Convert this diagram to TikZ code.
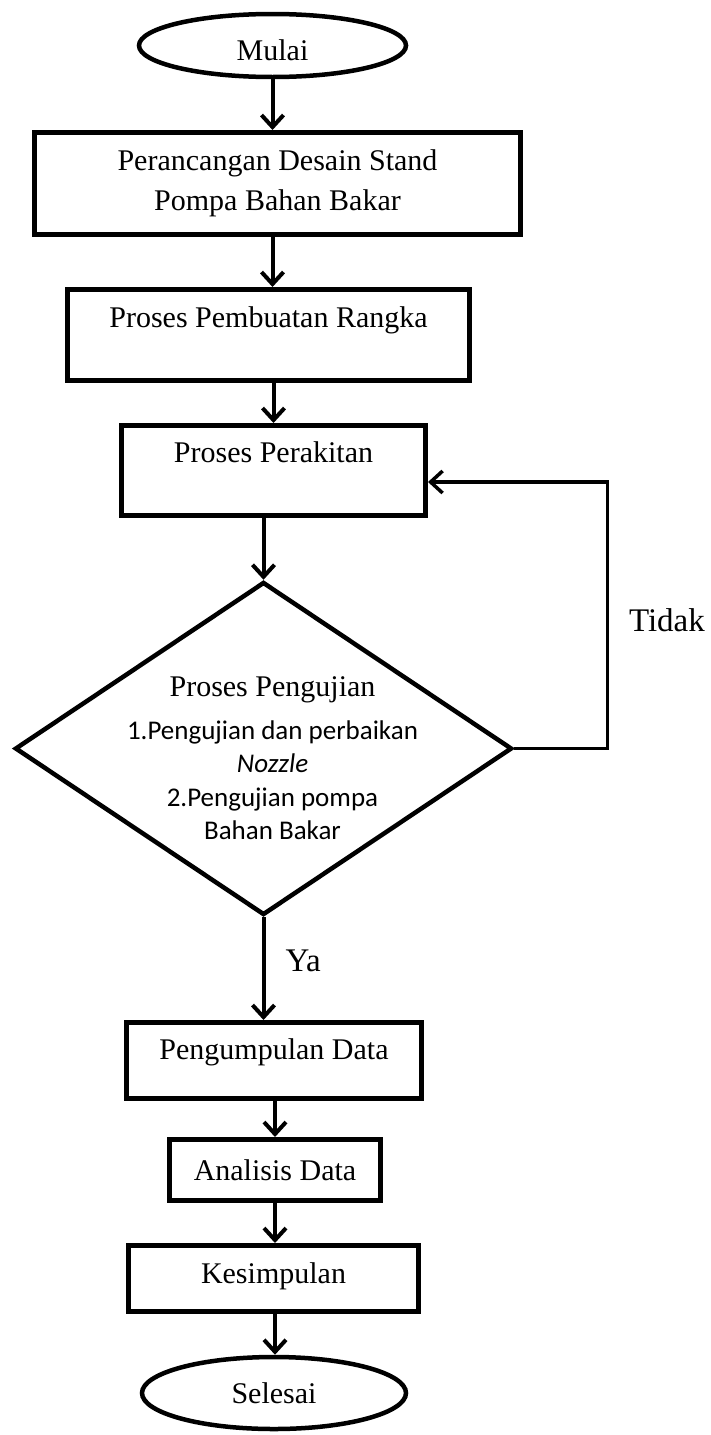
\documentclass[tikz,border=0pt]{standalone}
\usepackage{fontspec}
\setmainfont{Liberation Serif}
\newfontfamily\calibri{Carlito}
\usetikzlibrary{arrows.meta, positioning, shapes.geometric}
\tikzset{
  every picture/.style={line width=4pt},
  box/.style={draw, rectangle, line width=5pt, align=center, inner sep=0pt, font=\fontsize{30}{40}\selectfont},
  term/.style={draw, ellipse, line width=4.5pt, inner sep=0pt, font=\fontsize{30}{40}\selectfont},
  dec/.style={draw, diamond, line width=4.5pt, inner sep=0pt},
  arrow/.style={-{Straight Barb[length=12pt, width=22pt]}, line width=4pt},
  lbl/.style={font=\fontsize{33}{40}\selectfont, inner sep=0pt},
}

\begin{document}
\begin{tikzpicture}[x=1pt, y=-1pt,
                    dectext/.style={align=center, inner sep=0pt, font=\calibri\fontsize{27}{33.3}\selectfont}]
  \useasboundingbox (0,0) rectangle (711,1435);
  % main column
  \node[term, minimum width=267pt, minimum height=63pt, text height=29pt, text depth=0pt] (mulai) at (272.5,45.5) {Mulai};
  \node[box, minimum width=486pt, minimum height=102pt] (desain) at (277.5,183.5) {Perancangan Desain Stand\\Pompa Bahan Bakar};
  \node[box, minimum width=402pt, minimum height=91pt, text height=21pt, text depth=37pt] (rangka) at (268.5,335) {Proses Pembuatan Rangka};
  \node[box, minimum width=304pt, minimum height=90pt, text height=21pt, text depth=38pt] (perakitan) at (273.5,470.5) {Proses Perakitan};
  \node[dec, minimum width=497pt, minimum height=333pt] (uji) at (263.5,748.5) {};
  \node[dectext] (ujitxt) at ([yshift=-9.5pt, xshift=9pt]uji.center)
    {{\rmfamily\fontsize{30}{33.3}\selectfont Proses Pengujian}\\[10pt]1.Pengujian dan perbaikan\\\textit{Nozzle}\\2.Pengujian pompa\\Bahan Bakar};
  \node[box, minimum width=295pt, minimum height=76pt, text height=21pt, text depth=24pt] (kumpul) at (274,1060.5) {Pengumpulan Data};
  \node[box, minimum width=211pt, minimum height=61pt] (analisis) at (275,1170) {Analisis Data};
  \node[box, minimum width=290pt, minimum height=66pt, text height=21pt, text depth=12pt] (simpul) at (273.5,1278.5) {Kesimpulan};
  \node[term, minimum width=264pt, minimum height=72pt] (selesai) at (274,1393) {Selesai};
  % arrows
  \draw[arrow] (mulai) -- (mulai |- desain.north);
  \draw[arrow] (mulai |- desain.south) -- (mulai |- rangka.north);
  \draw[arrow] (perakitan |- rangka.south) -- (perakitan.north);
  \draw[arrow] (uji.north |- perakitan.south) -- (uji.north);
  \draw[arrow] (uji.south) -- node[lbl, pos=0.42, right=20pt] (ya) {Ya} (uji.south |- kumpul.north);
  \draw[arrow] (analisis |- kumpul.south) -- (analisis.north);
  \draw[arrow] (analisis.south) -- (analisis.south |- simpul.north);
  \draw[arrow] (analisis.south |- simpul.south) -- (analisis.south |- selesai.north);
  % back loop
  \draw[arrow, line width=3.5pt] (uji.east) -- ++(93,0) |- node[lbl, pos=0.24, right=20pt] (tidak) {Tidak} ([yshift=-11.5pt]perakitan.east);
\end{tikzpicture}
\end{document}
